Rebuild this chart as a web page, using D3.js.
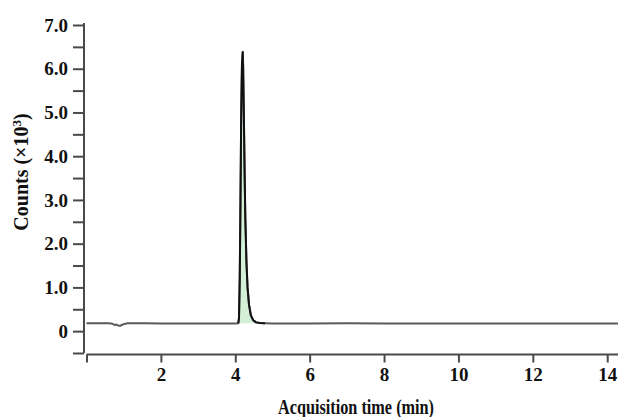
<!DOCTYPE html>
<html>
<head>
<meta charset="utf-8">
<script src="https://cdn.jsdelivr.net/npm/d3@7"></script>
<style>
  body { margin: 0; background: #fff; }
  svg { display: block; }
</style>
</head>
<body>
<div id="chart"></div>
<script>
// chromatogram points (time in min, counts x10^3)
const times = [0, 0.2, 0.4, 0.6, 0.7, 0.75, 0.8, 0.85, 0.9, 0.95, 1.0, 1.05, 1.1, 1.3, 1.6, 2.0, 2.5, 3.0, 3.5, 4.0,
  4.08, 4.1, 4.12, 4.14, 4.16, 4.18, 4.2, 4.21, 4.23, 4.25, 4.27, 4.3, 4.33, 4.37, 4.42, 4.48, 4.56, 4.66, 4.8,
  5.0, 5.5, 6.0, 7.0, 8.0, 9.0, 10.0, 11.0, 12.0, 13.0, 14.0, 14.3];
const counts = [0.18, 0.18, 0.18, 0.178, 0.17, 0.14, 0.15, 0.13, 0.12, 0.14, 0.16, 0.17, 0.178, 0.178, 0.178, 0.177, 0.177, 0.176, 0.176, 0.176,
  0.178, 0.3, 1.2, 3.0, 5.0, 6.1, 6.38, 6.1, 5.0, 3.7, 2.6, 1.6, 1.0, 0.6, 0.36, 0.25, 0.2, 0.185, 0.18,
  0.176, 0.176, 0.176, 0.178, 0.177, 0.176, 0.176, 0.177, 0.176, 0.177, 0.176, 0.176];
const peakStart = 4.08, peakEnd = 4.8, baseline = 0.178;

const xTicks = [0, 2, 4, 6, 8, 10, 12, 14];
const xTickLabels = ["", "2", "4", "6", "8", "10", "12", "14"];
const yMajorTicks = [0, 1, 2, 3, 4, 5, 6, 7];
const yMajorLabels = ["0", "1.0", "2.0", "3.0", "4.0", "5.0", "6.0", "7.0"];
const yMinorTicks = [-0.5, 0.5, 1.5, 2.5, 3.5, 4.5, 5.5, 6.5];

const width = 618, height = 417;
const serif = '"Liberation Serif", "DejaVu Serif", serif';
const data = times.map((t, i) => ({ t: t, c: counts[i] }));

const svg = d3.select('#chart').append('svg')
  .attr('width', width).attr('height', height);

const x = d3.scaleLinear().domain([0, 14.29]).range([86.5, 618]);
const y = d3.scaleLinear().domain([-0.5, 7]).range([353, 25]);

// y axis (majors with labels, minors without)
const yAxisG = svg.append('g').attr('transform', 'translate(84,0)')
  .call(d3.axisLeft(y).tickValues(yMajorTicks)
    .tickFormat((d, i) => yMajorLabels[i]).tickSize(11).tickSizeOuter(0).tickPadding(5));
yAxisG.append('g').call(d3.axisLeft(y).tickValues(yMinorTicks).tickFormat('').tickSize(11).tickSizeOuter(0))
  .select('.domain').remove();
yAxisG.select('.domain').attr('d', `M0,${y(7) - 2}V${y(-0.5)}`);

// x axis, slightly detached below
const xAxisG = svg.append('g').attr('transform', 'translate(0,354.5)')
  .call(d3.axisBottom(x).tickValues(xTicks)
    .tickFormat((d, i) => xTickLabels[i]).tickSize(8).tickSizeOuter(0).tickPadding(5));
xAxisG.select('.domain').attr('d', `M${x(0)},0H${width}`);

svg.selectAll('.domain, .tick line').attr('stroke', '#4a4a4a').attr('stroke-width', 2);
svg.selectAll('.tick text')
  .style('font-family', serif).style('font-weight', 'bold')
  .style('font-size', '19px').attr('fill', '#111');

// peak fill
const peakData = data.filter(d => d.t >= peakStart && d.t <= peakEnd);
svg.append('path').datum(peakData)
  .attr('fill', '#d3efd6')
  .attr('d', d3.area().x(d => x(d.t)).y0(y(baseline)).y1(d => y(d.c)));

// trace
svg.append('path').datum(data)
  .attr('fill', 'none')
  .attr('stroke', '#5a5a5a')
  .attr('stroke-width', 2)
  .attr('stroke-linejoin', 'round')
  .attr('d', d3.line().x(d => x(d.t)).y(d => y(d.c)));

// peak outline a bit darker
svg.append('path').datum(peakData)
  .attr('fill', 'none')
  .attr('stroke', '#111')
  .attr('stroke-width', 2)
  .attr('stroke-linejoin', 'round')
  .attr('d', d3.line().x(d => x(d.t)).y(d => y(d.c)));

// titles
svg.append('text')
  .attr('x', 356).attr('y', 414).attr('text-anchor', 'middle')
  .style('font-family', serif).style('font-weight', 'bold').style('font-size', '20px')
  .attr('textLength', 156).attr('lengthAdjust', 'spacingAndGlyphs')
  .attr('fill', '#111')
  .text('Acquisition time (min)');

const yt = svg.append('text')
  .style('font-family', serif).style('font-weight', 'bold').style('font-size', '20px')
  .attr('fill', '#111')
  .attr('transform', 'translate(28,172) rotate(-90)').attr('text-anchor', 'middle');
yt.append('tspan').text('Counts (×10');
yt.append('tspan').attr('dy', -7).style('font-size', '13px').text('3');
yt.append('tspan').attr('dy', 7).text(')');
</script>
</body>
</html>
